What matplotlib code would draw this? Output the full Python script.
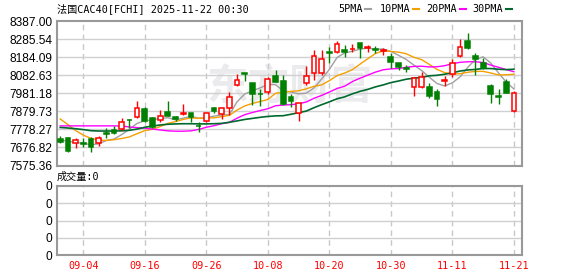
import numpy as np
import matplotlib.pyplot as plt
from matplotlib.lines import Line2D

# daily candles, 09-01 .. 11-21
opens = [7724, 7728, 7704, 7702, 7724, 7704, 7760, 7773, 7780, 7833,
         7850, 7891, 7844, 7829, 7874, 7848, 7865, 7868, 7799, 7827,
         7896, 7865, 7897, 8029, 8095, 8037, 7978, 7986, 8078, 8050,
         7960, 7868, 8037, 8097, 8097, 8212, 8211, 8226, 8230, 8265,
         8236, 8227, 8221, 8183, 8149, 8122, 8018, 8014, 8016, 7986,
         8050, 8091, 8192, 8275, 8190, 8153, 8022, 7963, 8042, 7883]
highs = [7743, 7737, 7732, 7728, 7734, 7741, 7788, 7797, 7844, 7837,
         7938, 7902, 7850, 7887, 7938, 7853, 7919, 7872, 7822, 7878,
         7902, 7902, 7986, 8087, 8095, 8037, 8005, 8071, 8112, 8084,
         7975, 7928, 8134, 8226, 8226, 8241, 8275, 8252, 8256, 8265,
         8252, 8247, 8234, 8205, 8153, 8140, 8074, 8099, 8041, 8003,
         8080, 8174, 8286, 8318, 8205, 8177, 8031, 8005, 8059, 7994]
lows = [7700, 7649, 7676, 7681, 7653, 7687, 7732, 7750, 7775, 7788,
        7844, 7818, 7788, 7822, 7855, 7825, 7859, 7822, 7762, 7822,
        7872, 7835, 7859, 8022, 8050, 7915, 7912, 7979, 8046, 7915,
        7906, 7825, 8028, 8056, 8084, 8153, 8205, 8187, 8211, 8177,
        8215, 8209, 8196, 8121, 8112, 8099, 7968, 8009, 7956, 7912,
        8022, 8074, 8183, 8228, 8084, 8117, 7928, 7919, 7981, 7878]
closes = [7709, 7659, 7717, 7698, 7677, 7732, 7754, 7760, 7822, 7829,
          7896, 7825, 7793, 7852, 7855, 7837, 7867, 7850, 7797, 7868,
          7882, 7897, 7962, 8054, 8089, 7975, 7976, 8059, 8046, 7921,
          7940, 7925, 8078, 8189, 8172, 8210, 8260, 8211, 8232, 8234,
          8238, 8225, 8223, 8159, 8127, 8120, 8065, 8074, 7968, 7951,
          8053, 8153, 8239, 8237, 8175, 8125, 7975, 7961, 7984, 7981]

# moving averages as drawn on the chart
ma5 = [7718, 7712, 7705, 7700, 7692, 7697, 7716, 7724, 7749, 7779,
       7812, 7826, 7833, 7839, 7844, 7832, 7841, 7852, 7841, 7844,
       7853, 7859, 7861, 7933, 7977, 7995, 8011, 8031, 8029, 7995,
       7988, 7978, 7982, 8011, 8061, 8115, 8182, 8208, 8217, 8229,
       8235, 8228, 8230, 8216, 8194, 8171, 8139, 8109, 8071, 8036,
       8022, 8040, 8073, 8127, 8171, 8186, 8150, 8095, 8044, 8005]
ma10 = [7837, 7805, 7772, 7746, 7728, 7718, 7716, 7720, 7727, 7736,
        7754, 7771, 7779, 7794, 7812, 7822, 7834, 7843, 7840, 7844,
        7843, 7850, 7857, 7887, 7910, 7924, 7935, 7946, 7981, 7986,
        7992, 7995, 8006, 8020, 8028, 8052, 8080, 8095, 8114, 8145,
        8175, 8205, 8219, 8216, 8212, 8203, 8183, 8170, 8143, 8115,
        8097, 8089, 8091, 8099, 8104, 8104, 8095, 8084, 8085, 8088]
ma20 = [7798, 7798, 7798, 7798, 7798, 7798, 7798, 7798, 7797, 7792,
        7788, 7785, 7780, 7775, 7770, 7768, 7768, 7770, 7778, 7790,
        7799, 7810, 7818, 7841, 7861, 7873, 7884, 7894, 7911, 7915,
        7917, 7922, 7932, 7953, 7969, 7988, 8008, 8021, 8047, 8066,
        8083, 8100, 8113, 8118, 8120, 8127, 8132, 8133, 8129, 8130,
        8136, 8147, 8155, 8158, 8158, 8154, 8139, 8127, 8114, 8102]
ma30 = [7789, 7786, 7782, 7777, 7771, 7769, 7769, 7769, 7770, 7773,
        7780, 7790, 7797, 7803, 7807, 7809, 7810, 7810, 7809, 7809,
        7810, 7812, 7818, 7826, 7834, 7840, 7846, 7851, 7854, 7855,
        7863, 7872, 7881, 7900, 7917, 7933, 7950, 7961, 7978, 7992,
        8003, 8017, 8028, 8041, 8050, 8060, 8066, 8070, 8079, 8082,
        8088, 8096, 8106, 8112, 8115, 8120, 8120, 8116, 8114, 8116]

date_labels = ['09-04', '09-16', '09-26', '10-08', '10-20', '10-30', '11-11', '11-21']
date_index = [3, 11, 19, 27, 35, 43, 51, 59]
price_ticks = [7575.36, 7676.82, 7778.27, 7879.73, 7981.18, 8082.63, 8184.09, 8285.54, 8387.00]

mono = ['DejaVu Sans Mono', 'Noto Sans CJK SC']
W, H = 578, 276
fig = plt.figure(figsize=(W / 100, H / 100), dpi=100)

def px(x0, y0, x1, y1):
    return [x0 / W, 1 - y1 / H, (x1 - x0) / W, (y1 - y0) / H]

ax = fig.add_axes(px(56.7, 21, 522.3, 165.5))
axv = fig.add_axes(px(56.7, 186, 522.3, 255))

x = np.arange(len(closes))
o = np.array(opens); c = np.array(closes)
up = c >= o
red, green = '#ff0000', '#008000'
colors = np.where(up, red, green)

ax.vlines(x, lows, highs, colors=colors, lw=1, zorder=3)
ax.bar(x, np.abs(c - o) + 0.5, bottom=np.minimum(o, c), width=0.62,
       color=np.where(up, 'white', green), edgecolor=colors, linewidth=1.1, zorder=4)

ax.plot(x, ma5, color='#a0a0a0', lw=1, zorder=2)
ax.plot(x, ma10, color='#f5a000', lw=1, zorder=2)
ax.plot(x, ma20, color='#ff00ff', lw=1, zorder=2)
ax.plot(x, ma30, color='#006a2e', lw=1.2, zorder=2)

# watermark
ax.text(0.5, 0.55, '东方财富', transform=ax.transAxes, ha='center', va='center',
        fontsize=30, color='#ebebee', family='Noto Sans CJK SC', zorder=0, weight='bold')

for a in (ax, axv):
    a.set_xlim(-0.455, 60.09)
    for i in date_index:
        a.axvline(i, color='#c8c8c8', lw=1, ls=(0, (4, 3)), zorder=1)
    for s in a.spines.values():
        s.set_color('#999999')
        s.set_linewidth(1.5)
    a.tick_params(length=0)
    a.set_xticks([])

ax.set_ylim(price_ticks[0], price_ticks[-1])
ax.set_yticks(price_ticks)
ax.set_yticklabels([f'{v:.2f}' for v in price_ticks], family='Liberation Sans', fontsize=8.6)
ax.tick_params(axis='y', pad=3)
for v in price_ticks[1:-1]:
    ax.axhline(v, color='#d0d0d0', lw=1, zorder=1)

axv.set_ylim(0, 4)
axv.set_yticks(range(5))
axv.set_yticklabels(['0'] * 5, family='Liberation Sans', fontsize=8.6)
axv.tick_params(axis='y', pad=3)
for v in range(1, 4):
    axv.axhline(v, color='#d0d0d0', lw=1, zorder=1)

for lbl, i in zip(date_labels, date_index):
    xf = axv.transData.transform((i, 0))[0] / W
    fig.text(xf, 1 - 266 / H, lbl, color='red', ha='center', va='center', family=mono, fontsize=7.3)

fig.text(57 / W, 1 - 9 / H, '法国CAC40[FCHI] 2025-11-22 00:30', ha='left', va='center',
         family=mono, fontsize=7.3)
fig.text(57 / W, 1 - 177 / H, '成交量:0', ha='left', va='center', family=mono, fontsize=7.3)

legend = [('5PMA', 338, '#a0a0a0', 365), ('10PMA', 380, '#f5a000', 413),
          ('20PMA', 426, '#ff00ff', 460), ('30PMA', 472, '#006a2e', 506)]
for name, tx, col, lx in legend:
    fig.text(tx / W, 1 - 9 / H, name, ha='left', va='center', family=mono, fontsize=7.3)
    fig.add_artist(Line2D([lx / W, (lx + 6) / W], [1 - 9 / H, 1 - 9 / H], color=col, lw=1.5))

fig.savefig('out.png', dpi=100)
